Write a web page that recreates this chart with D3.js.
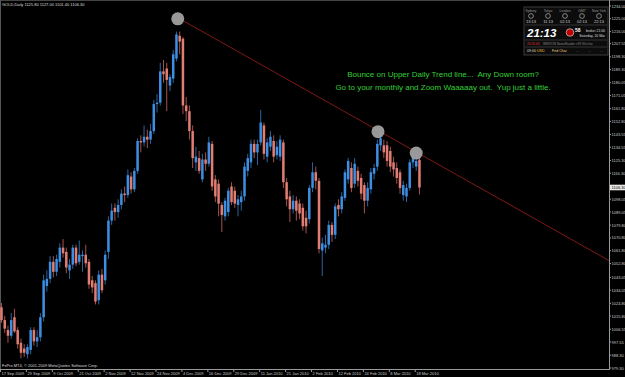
<!DOCTYPE html>
<html lang="en">
<head>
<meta charset="UTF-8">
<title>GOLD,Daily</title>
<script src="https://d3js.org/d3.v7.min.js"></script>
<style>
  body { margin: 0; background: #000; overflow: hidden; }
  svg { display: block; font-family: "Liberation Sans", Arial, sans-serif; }
  .note { white-space: pre; }
</style>
</head>
<body>
<div id="chart"></div>
<script>
const width = 625, height = 377;

// daily bars, GOLD
const dates = [
  "2009-09-17","2009-09-18","2009-09-21","2009-09-22","2009-09-23","2009-09-24","2009-09-25","2009-09-28","2009-09-29","2009-09-30",
  "2009-10-01","2009-10-02","2009-10-05","2009-10-06","2009-10-07","2009-10-08","2009-10-09","2009-10-12","2009-10-13","2009-10-14",
  "2009-10-15","2009-10-16","2009-10-19","2009-10-20","2009-10-21","2009-10-22","2009-10-23","2009-10-26","2009-10-27","2009-10-28",
  "2009-10-29","2009-10-30","2009-11-02","2009-11-03","2009-11-04","2009-11-05","2009-11-06","2009-11-09","2009-11-10","2009-11-11",
  "2009-11-12","2009-11-13","2009-11-16","2009-11-17","2009-11-18","2009-11-19","2009-11-20","2009-11-23","2009-11-24","2009-11-25",
  "2009-11-26","2009-11-27","2009-11-30","2009-12-01","2009-12-02","2009-12-03","2009-12-04","2009-12-07","2009-12-08","2009-12-09",
  "2009-12-10","2009-12-11","2009-12-14","2009-12-15","2009-12-16","2009-12-17","2009-12-18","2009-12-21","2009-12-22","2009-12-23",
  "2009-12-24","2009-12-28","2009-12-29","2009-12-30","2009-12-31","2010-01-04","2010-01-05","2010-01-06","2010-01-07","2010-01-08",
  "2010-01-11","2010-01-12","2010-01-13","2010-01-14","2010-01-15","2010-01-18","2010-01-19","2010-01-20","2010-01-21","2010-01-22",
  "2010-01-25","2010-01-26","2010-01-27","2010-01-28","2010-01-29","2010-02-01","2010-02-02","2010-02-03","2010-02-04","2010-02-05",
  "2010-02-08","2010-02-09","2010-02-10","2010-02-11","2010-02-12","2010-02-15","2010-02-16","2010-02-17","2010-02-18","2010-02-19",
  "2010-02-22","2010-02-23","2010-02-24","2010-02-25","2010-02-26","2010-03-01","2010-03-02","2010-03-03","2010-03-04","2010-03-05",
  "2010-03-08","2010-03-09","2010-03-10","2010-03-11","2010-03-12","2010-03-15","2010-03-16","2010-03-17","2010-03-18","2010-03-19"
];
const opens = [
  1022,1013,1006,1002,1015,1006,997,993,989,992,
  1006,998,1001,1015,1037,1042,1054,1047,1054,1064,
  1061,1048,1052,1064,1054,1058,1059,1054,1041,1039,
  1027,1045,1041,1061,1083,1092,1089,1094,1102,1101,
  1114,1105,1118,1139,1138,1142,1140,1146,1165,1166,
  1188,1190,1178,1183,1197,1213,1211,1164,1160,1146,
  1124,1127,1112,1126,1123,1137,1112,1109,1094,1086,
  1089,1107,1104,1094,1096,1100,1118,1124,1137,1131,
  1138,1150,1128,1135,1139,1129,1128,1138,1110,1100,
  1091,1097,1095,1092,1085,1084,1106,1117,1111,1062,
  1064,1066,1080,1073,1094,1091,1099,1112,1120,1109,
  1118,1113,1108,1097,1105,1116,1121,1136,1136,1136,
  1132,1124,1120,1117,1101,1100,1106,1124,1121,1125.8
];
const highs = [
  1025,1016,1009,1018,1021,1008,1000,996,996,1008,
  1008,1006,1018,1045,1048,1058,1058,1059,1067,1070,
  1064,1056,1066,1066,1069,1062,1066,1056,1044,1041,
  1048,1049,1062,1086,1095,1095,1098,1105,1107,1119,
  1117,1120,1141,1143,1150,1147,1151,1168,1172,1194,
  1196,1194,1186,1203,1216,1216,1212,1170,1164,1150,
  1135,1132,1130,1131,1142,1139,1115,1112,1096,1099,
  1106,1110,1107,1101,1104,1124,1130,1140,1140,1140,
  1161,1152,1141,1146,1143,1139,1143,1140,1113,1104,
  1101,1100,1098,1095,1090,1108,1124,1121,1113,1071,
  1073,1083,1082,1095,1098,1103,1119,1127,1124,1127,
  1121,1116,1110,1110,1120,1123,1140,1145,1140,1139,
  1135,1128,1124,1119,1111,1109,1126,1131,1130,1127
];
const lows = [
  1011,1004,997,1000,1004,993,986,987,986,989,
  995,994,998,1012,1033,1039,1043,1044,1050,1057,
  1046,1042,1049,1051,1052,1047,1050,1035,1032,1024,
  1024,1032,1038,1056,1080,1083,1085,1091,1096,1099,
  1102,1103,1116,1131,1135,1134,1137,1144,1159,1164,
  1180,1160,1174,1180,1195,1200,1158,1153,1140,1120,
  1118,1116,1110,1118,1121,1104,1096,1086,1075,1083,
  1086,1094,1092,1086,1090,1097,1114,1120,1127,1122,
  1136,1126,1124,1132,1124,1126,1125,1106,1093,1082,
  1088,1083,1084,1076,1074,1081,1103,1105,1060,1044,
  1060,1063,1068,1070,1086,1088,1097,1109,1103,1106,
  1107,1098,1088,1093,1102,1112,1118,1132,1127,1121,
  1117,1114,1109,1102,1097,1096,1104,1120,1118,1101.4
];
const closes = [
  1013,1007,1002,1013,1005,996,990,990,994,1006,
  998,1001,1015,1041,1042,1054,1047,1056,1064,1060,
  1050,1052,1064,1053,1059,1059,1053,1038,1036,1026,
  1045,1034,1059,1083,1090,1089,1094,1102,1101,1115,
  1105,1118,1139,1138,1142,1140,1146,1165,1166,1188,
  1186,1182,1184,1200,1214,1209,1164,1160,1146,1127,
  1128,1118,1126,1123,1138,1107,1100,1095,1087,1097,
  1104,1096,1095,1098,1100,1121,1127,1137,1131,1137,
  1152,1130,1138,1142,1128,1135,1140,1110,1098,1091,
  1097,1090,1088,1079,1079,1106,1117,1111,1063,1067,
  1066,1080,1073,1093,1091,1100,1117,1125,1106,1123,
  1111,1102,1097,1106,1117,1120,1137,1141,1131,1125,
  1121,1119,1113,1106,1108,1106,1124,1127,1125,1106.3
];

const dateTicks = ["17 Sep 2009","29 Sep 2009","9 Oct 2009","21 Oct 2009","2 Nov 2009","12 Nov 2009",
  "24 Nov 2009","4 Dec 2009","16 Dec 2009","29 Dec 2009","11 Jan 2010","21 Jan 2010","2 Feb 2010",
  "12 Feb 2010","24 Feb 2010","8 Mar 2010","18 Mar 2010"];
const priceTicks = [1234.00,1225.00,1216.00,1207.55,1198.30,1189.30,1180.05,1171.05,1161.80,1152.80,
  1143.55,1134.55,1125.30,1116.30,1098.05,1089.05,1079.80,1070.80,1061.80,1052.80,1043.05,1034.05,
  1024.80,1015.80,1006.55,997.55,988.30,979.30];

// trend line anchors (bar index, price) and the marked touches
const trendIdx = [55, 117];
const trendPrice = [1225, 1145.4];
const markIdx = [54.4, 116.2, 128];
const markPrice = [1225, 1145.6, 1130.5];

const note = ["Bounce on Upper Daily Trend line...  Any Down room?",
  "Go to your monthly and Zoom Waaaaay out.  Yup just a little."];

const plotRight = 609, plotBottom = 369;
const barStep = 3.24;
const parse = d3.timeParse("%Y-%m-%d");
const fmt = d3.timeFormat("%-d %b %Y");
const bars = dates.map((d, i) => ({
  i, date: parse(d), o: opens[i], h: highs[i], l: lows[i], c: closes[i]
}));

const lastIdx = (plotRight - 1.5) / barStep;
const x = d3.scaleLinear().domain([0, lastIdx]).range([1.5, plotRight]);
const y = d3.scaleLinear().domain([979.3, 1234]).range([368, 6]);

const upCol = "#3d8fe3", dnCol = "#e27d73";

const svg = d3.select("#chart").append("svg")
  .attr("width", width).attr("height", height);

svg.append("rect").attr("width", width).attr("height", height).attr("fill", "#000");

// frame lines
svg.append("line").attr("x1", 0).attr("x2", width).attr("y1", 0.5).attr("y2", 0.5).attr("stroke", "#444");
svg.append("line").attr("x1", 0.5).attr("x2", 0.5).attr("y1", 0).attr("y2", plotBottom).attr("stroke", "#555");

const plot = svg.append("g");

// candles
const cg = plot.selectAll("g.bar").data(bars).join("g").attr("class", "bar");
cg.append("line")
  .attr("x1", d => x(d.i)).attr("x2", d => x(d.i))
  .attr("y1", d => y(d.h)).attr("y2", d => y(d.l))
  .attr("stroke", d => d.c >= d.o ? "#2c649f" : "#a5524b")
  .attr("stroke-width", 1);
cg.append("rect")
  .attr("x", d => x(d.i) - 1.25)
  .attr("width", 2.5)
  .attr("y", d => y(Math.max(d.o, d.c)))
  .attr("height", d => Math.max(1, Math.abs(y(d.o) - y(d.c))))
  .attr("fill", d => d.c >= d.o ? upCol : dnCol);

// trend line extended to right edge
const slope = (trendPrice[1] - trendPrice[0]) / (trendIdx[1] - trendIdx[0]);
plot.append("line")
  .attr("x1", x(trendIdx[0])).attr("y1", y(trendPrice[0]))
  .attr("x2", x(lastIdx)).attr("y2", y(trendPrice[0] + slope * (lastIdx - trendIdx[0])))
  .attr("stroke", "#801818").attr("stroke-width", 1);

// touch markers
plot.selectAll("ellipse.mark").data(markIdx).join("ellipse")
  .attr("class", "mark")
  .attr("cx", d => x(d)).attr("cy", (d, k) => y(markPrice[k]))
  .attr("rx", 6.5).attr("ry", 6.5)
  .attr("fill", "#a8a8a8").attr("opacity", 0.9);

// note text
svg.selectAll("text.note").data(note).join("text")
  .attr("class", "note")
  .attr("x", 443).attr("y", (d, k) => 77 + k * 13)
  .attr("text-anchor", "middle")
  .attr("font-size", 8).attr("fill", "#35cf35")
  .text(d => d);

// title
const last = bars[bars.length - 1];
svg.append("text").attr("x", 2).attr("y", 6.3)
  .attr("font-size", 4).attr("fill", "#ddd")
  .text(`GOLD,Daily  ${last.o.toFixed(2)} ${last.h.toFixed(2)} ${last.l.toFixed(2)} ${last.c.toFixed(2)}`);

svg.append("text").attr("x", 2).attr("y", 367)
  .attr("font-size", 4).attr("fill", "#ddd")
  .text("FxPro MT4, © 2001-2009 MetaQuotes Software Corp.");

// x axis
svg.append("line").attr("x1", 0).attr("x2", plotRight).attr("y1", plotBottom + 0.5).attr("y2", plotBottom + 0.5)
  .attr("stroke", "#999");
const tickBars = dateTicks.map(t => bars.find(b => fmt(b.date) === t));
const xt = svg.selectAll("g.xt").data(tickBars).join("g").attr("class", "xt")
  .attr("transform", d => `translate(${x(d.i) - 1.5},${plotBottom})`);
xt.append("line").attr("x1", 0.5).attr("x2", 0.5).attr("y1", 0).attr("y2", 3).attr("stroke", "#999");
xt.append("text").attr("x", 1.5).attr("y", 6.3).attr("font-size", 4).attr("fill", "#ccc")
  .text(d => fmt(d.date));

// y axis
svg.append("line").attr("x1", plotRight + 0.5).attr("x2", plotRight + 0.5).attr("y1", 0).attr("y2", plotBottom + 1)
  .attr("stroke", "#999");
const yt = svg.selectAll("g.yt").data(priceTicks).join("g").attr("class", "yt")
  .attr("transform", d => `translate(${plotRight},${y(d)})`);
yt.append("line").attr("x1", 0).attr("x2", 2).attr("y1", 0).attr("y2", 0).attr("stroke", "#999");
yt.append("text").attr("x", 2.5).attr("y", 1.5).attr("font-size", 4).attr("fill", "#ccc")
  .text(d => d.toFixed(2));

// current price tag
const tag = svg.append("g").attr("transform", `translate(${plotRight + 1},${y(last.c)})`);
tag.append("rect").attr("x", 0).attr("y", -2.8).attr("width", 16).attr("height", 5.6).attr("fill", "#e8e8e8");
tag.append("text").attr("x", 1.5).attr("y", 1.5).attr("font-size", 4).attr("fill", "#000").text(last.c.toFixed(2));

// clock panel (top right)
const cities = ["Sydney", "Tokyo", "London", "GMT", "New York"];
const cityTimes = ["13:13", "11:13", "02:13", "02:13", "22:13"];
const panel = svg.append("g").attr("transform", "translate(524,7)");
panel.append("rect").attr("width", 84).attr("height", 48).attr("fill", "#0c0c0c").attr("stroke", "#3a3a3a");
const cx = d3.scalePoint().domain(cities).range([7, 75]);
panel.selectAll("text.city").data(cities).join("text").attr("class", "city")
  .attr("x", d => cx(d)).attr("y", 5).attr("text-anchor", "middle")
  .attr("font-size", 3.3).attr("fill", "#999").text(d => d);
panel.selectAll("circle.clk").data(cities).join("circle").attr("class", "clk")
  .attr("cx", d => cx(d)).attr("cy", 9).attr("r", 2.4)
  .attr("fill", "none").attr("stroke", "#ccc").attr("stroke-width", 0.6);
panel.selectAll("text.ct").data(cityTimes).join("text").attr("class", "ct")
  .attr("x", (d, k) => cx(cities[k])).attr("y", 15.5).attr("text-anchor", "middle")
  .attr("font-size", 4).attr("fill", "#ccc").text(d => d);
panel.append("line").attr("x1", 1).attr("x2", 83).attr("y1", 18).attr("y2", 18).attr("stroke", "#333");
panel.append("text").attr("x", 3).attr("y", 30).attr("font-size", 11.5)
  .attr("font-weight", "bold").attr("font-style", "italic").attr("fill", "#fff").text("21:13");
panel.append("circle").attr("cx", 46).attr("cy", 25.5).attr("r", 3.8)
  .attr("fill", "#b00").attr("stroke", "#eee").attr("stroke-width", 0.6);
panel.append("text").attr("x", 51).attr("y", 25).attr("font-size", 5).attr("font-weight", "bold")
  .attr("fill", "#fff").text("58");
panel.append("text").attr("x", 81).attr("y", 24.5).attr("text-anchor", "end").attr("font-size", 3.4)
  .attr("fill", "#ddd").text("broker  21:00");
panel.append("text").attr("x", 81).attr("y", 29.5).attr("text-anchor", "end").attr("font-size", 3.4)
  .attr("fill", "#ddd").text("Saturday, 20 Mar");
panel.append("line").attr("x1", 1).attr("x2", 83).attr("y1", 33).attr("y2", 33).attr("stroke", "#333");
panel.append("text").attr("x", 3).attr("y", 37.5).attr("font-size", 3.2).attr("fill", "#e03030").text("20:55:46");
panel.append("text").attr("x", 19).attr("y", 37.5).attr("font-size", 3.2).attr("fill", "#888")
  .text("WINTON NewsReader v99 30s  Ino");
panel.append("line").attr("x1", 1).attr("x2", 83).attr("y1", 40).attr("y2", 40).attr("stroke", "#333");
panel.append("text").attr("x", 3).attr("y", 45).attr("font-size", 3.6).attr("fill", "#ddd").text("09:00");
panel.append("text").attr("x", 13).attr("y", 45).attr("font-size", 3.6).attr("fill", "#e8c030").text("USD");
panel.append("text").attr("x", 28).attr("y", 45).attr("font-size", 3.6).attr("fill", "#e8d080").text("Fed Chai");
panel.selectAll("text.dot").data([52, 64, 76]).join("text").attr("class", "dot")
  .attr("x", d => d).attr("y", 45).attr("font-size", 3.6).attr("fill", "#777").text("...");
</script>
</body>
</html>
